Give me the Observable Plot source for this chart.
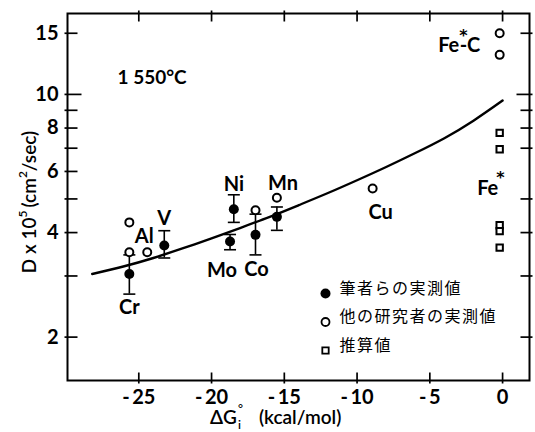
<!DOCTYPE html>
<html><head><meta charset="utf-8">
<script src="https://cdn.jsdelivr.net/npm/d3@7"></script>
<script src="https://cdn.jsdelivr.net/npm/@observablehq/plot@0.6"></script>
<style>
html,body{margin:0;padding:0;background:#fff;}
#chart svg{display:block;}
</style></head><body><div id="chart"></div>
<script>
// ---- data ----
const oursElem = ["Cr","V","Ni","Mo","Co","Mn"];
const oursDG   = [-25.65,-23.25,-18.47,-18.73,-16.98,-15.51];
const oursD    = [3.04,3.67,4.67,3.77,3.94,4.44];
const oursLo   = [2.66,3.38,4.28,3.57,3.45,4.06];
const oursHi   = [3.45,4.05,5.14,3.95,4.52,4.74];

const otherElem = ["Cr","Cr","Al","Co","Mn","Cu","Fe*-C","Fe*-C"];
const otherDG   = [-25.65,-25.65,-24.42,-16.98,-15.51,-8.93,-0.2,-0.2];
const otherD    = [3.51,4.28,3.51,4.64,5.04,5.36,15.0,13.0];

const estElem = ["Fe*","Fe*","Fe*","Fe*","Fe*"];
const estDG   = [-0.2,-0.2,-0.2,-0.2,-0.2];
const estD    = [7.75,6.95,4.2,4.04,3.62];

const curveDG = [-28.2,-26,-24,-22,-20,-18,-16,-14,-12,-10,-8,-6,-4,-2,0];
const curveD  = [3.04,3.20,3.38,3.60,3.85,4.13,4.44,4.80,5.20,5.66,6.18,6.78,7.48,8.40,9.6];

const yTickLabels = [2,4,6,8,10,15];
const yTicksLeft  = [2,3,4,5,6,7,8,9,15];
const yTicksRight = [2,3,4,5,7,8,9,15];
const yTicksMajor = [10];
const xTicks = [-25,-20,-15,-10,-5,0];

const legendLabels = ["筆者らの実測値","他の研究者の実測値","推算値"];
const tempLabel = "1 550°C";
const xLabelParts = ["ΔG","°","i","(kcal/mol)"];
const yLabelParts = ["D x 10","5","(cm","2","/sec)"];
const feCParts = ["Fe","*","-C"];
const feParts = ["Fe","*"];

// ---- tables ----
const ours = oursElem.map((el,i)=>({el, dG:oursDG[i], D:oursD[i], lo:oursLo[i], hi:oursHi[i]}));
const caps = ours.flatMap(d=>[{dG:d.dG, D:d.lo},{dG:d.dG, D:d.hi}]);
const others = otherElem.map((el,i)=>({el, dG:otherDG[i], D:otherD[i]}));
const est = estElem.map((el,i)=>({el, dG:estDG[i], D:estD[i]}));
const curve = curveDG.map((x,i)=>({dG:x, D:curveD[i]}));

// symbols: horizontal cap and inward tick marks
const len = size => Math.sqrt(size/Math.PI);
const capSymbol = {draw(c,s){ const r=len(s); c.moveTo(-r,0); c.lineTo(r,0);} };
const tickToRight = {draw(c,s){ c.moveTo(-3,0); c.lineTo(len(s),0);} };
const tickToLeft  = {draw(c,s){ c.moveTo(3,0); c.lineTo(-len(s),0);} };
const tickUp      = {draw(c,s){ c.moveTo(0,3); c.lineTo(0,-len(s));} };
const tickDown    = {draw(c,s){ c.moveTo(0,-3); c.lineTo(0,len(s));} };
const tk = {stroke:"black", strokeWidth:1.7, fill:"none"};

const FONT = "Lato, 'DejaVu Sans', sans-serif";
const labelOffsets = {
  Cr:{src:ours, dx:0, dy:34}, V:{src:ours, dx:0, dy:-27}, Ni:{src:ours, dx:0, dy:-25},
  Mo:{src:ours, dx:-8, dy:29}, Co:{src:ours, dx:1, dy:35}, Mn:{src:ours, dx:6, dy:-33},
  Al:{src:others, dx:-3, dy:-16}, Cu:{src:others, dx:8, dy:24}
};
const labelMarks = Object.entries(labelOffsets).map(([name,o]) =>
  Plot.text([o.src.find(d=>d.el===name)], {x:"dG", y:"D", text:()=>name, dx:o.dx, dy:o.dy,
    fontSize:20, fontWeight:"bold", fill:"black"}));

const feC = others.find(d=>d.el==="Fe*-C");
const fe = est[1];
const legendMarks = legendLabels.flatMap((t,i)=>{
  const dy = -87 + i*28.5;
  const sym = i===0 ? {r:5, fill:"black"} : i===1 ? {r:4, fill:"white", stroke:"black", strokeWidth:1.8} : {r:3.6, symbol:"square", fill:"white", stroke:"black", strokeWidth:1.8};
  return [
    Plot.dot([0], {frameAnchor:"bottom-left", dx:258, dy, ...sym}),
    Plot.text([t], {frameAnchor:"bottom-left", dx:272, dy, text:d=>d, textAnchor:"start",
      fontSize:16, fontFamily:"'Noto Sans CJK JP', sans-serif", fill:"black"})
  ];
});

const plot = Plot.plot({
  width:535, height:432,
  marginLeft:67, marginRight:6, marginTop:13, marginBottom:52,
  style:{fontFamily:FONT, background:"white", color:"black"},
  x:{domain:[-29.9,1.85], label:null},
  y:{type:"log", domain:[1.5,17.1], label:null},
  marks:[
    Plot.frame({strokeWidth:2}),
    Plot.axisY(yTickLabels, {anchor:"left", tickSize:0, tickPadding:9, fontSize:20, fontWeight:"bold", label:null}),
    Plot.dot(yTicksLeft, {y:d=>d, frameAnchor:"left", symbol:tickToRight, r:10, ...tk}),
    Plot.dot(yTicksMajor, {y:d=>d, frameAnchor:"left", symbol:tickToRight, r:14, ...tk}),
    Plot.dot(yTicksRight, {y:d=>d, frameAnchor:"right", symbol:tickToLeft, r:9, ...tk}),
    Plot.dot(yTicksMajor, {y:d=>d, frameAnchor:"right", symbol:tickToLeft, r:13, ...tk}),
    Plot.axisX(xTicks, {anchor:"bottom", tickSize:0, tickPadding:9, fontSize:20, fontWeight:"bold", label:null,
      tickFormat:d => d<0 ? "-\u2009" + (-d) : String(d)}),
    Plot.dot(xTicks, {x:d=>d, frameAnchor:"bottom", symbol:tickUp, r:8, ...tk}),
    Plot.dot(xTicks, {x:d=>d, frameAnchor:"top", symbol:tickDown, r:8, ...tk}),
    Plot.line(curve, {x:"dG", y:"D", curve:"natural", stroke:"black", strokeWidth:2.4}),
    Plot.ruleX(ours, {x:"dG", y1:"lo", y2:"hi", stroke:"black", strokeWidth:1.6}),
    Plot.dot(caps, {x:"dG", y:"D", symbol:capSymbol, r:6, stroke:"black", strokeWidth:1.6, fill:"none"}),
    Plot.dot(others, {x:"dG", y:"D", r:4, fill:"white", stroke:"black", strokeWidth:2}),
    Plot.dot(est, {x:"dG", y:"D", symbol:"square", r:3.6, fill:"white", stroke:"black", strokeWidth:2}),
    Plot.dot(ours, {x:"dG", y:"D", r:5, fill:"black"}),
    ...labelMarks,
    Plot.text([tempLabel], {frameAnchor:"top-left", dx:50, dy:57, text:d=>d, textAnchor:"start", fontSize:19, fontWeight:"bold"}),
    ...legendMarks
  ]
});
plot.querySelectorAll("text").forEach(t=>{ if (/[\u3040-\u9fff]/.test(t.textContent)) t.setAttribute("letter-spacing","1.5"); });
document.getElementById("chart").appendChild(plot);

const svg = d3.select(plot);
const sx = plot.scale("x"), sy = plot.scale("y");

// Fe*-C and Fe* labels (asterisk as raised tspan), placed from the point positions
const fcl = svg.append("text").attr("x", sx.apply(feC.dG) - 61).attr("y", sy.apply(feC.D) + 14)
  .attr("text-anchor","start").attr("dominant-baseline","middle")
  .attr("font-family",FONT).attr("font-size",20).attr("font-weight","bold").attr("fill","black");
fcl.append("tspan").text(feCParts[0]);
fcl.append("tspan").attr("dx",0).attr("dy",-11).attr("font-size",16).attr("font-family","'DejaVu Sans'").text(feCParts[1]);
fcl.append("tspan").attr("dx",-8).attr("dy",11).text(feCParts[2]);
const fel = svg.append("text").attr("x", sx.apply(fe.dG) - 22).attr("y", sy.apply(fe.D) + 41)
  .attr("text-anchor","start").attr("dominant-baseline","middle")
  .attr("font-family",FONT).attr("font-size",20).attr("font-weight","bold").attr("fill","black");
fel.append("tspan").text(feParts[0]);
fel.append("tspan").attr("dx",-2).attr("dy",-12).attr("font-size",16).attr("font-family","'DejaVu Sans'").text(feParts[1]);

// axis titles with super/subscripts
const yl = svg.append("text").attr("transform","translate(31,202) rotate(-90)")
  .attr("text-anchor","middle").attr("dominant-baseline","middle")
  .attr("font-family",FONT).attr("font-size",19).attr("font-weight",600).attr("fill","black");
yl.append("tspan").text(yLabelParts[0]);
yl.append("tspan").attr("dy",-7).attr("font-size",12).text(yLabelParts[1]);
yl.append("tspan").attr("dy",7).attr("dx",3).text(yLabelParts[2]);
yl.append("tspan").attr("dy",-7).attr("font-size",12).text(yLabelParts[3]);
yl.append("tspan").attr("dy",7).text(yLabelParts[4]);

const xl = svg.append("text").attr("x",210).attr("y",419)
  .attr("text-anchor","start").attr("dominant-baseline","middle")
  .attr("font-family",FONT).attr("font-size",19).attr("font-weight",600).attr("fill","black");
xl.append("tspan").text(xLabelParts[0]);
xl.append("tspan").attr("dx",1).attr("dy",-9).attr("font-size",12).text(xLabelParts[1]);
xl.append("tspan").attr("dy",16).attr("dx",-5).attr("font-size",12).text(xLabelParts[2]);
xl.append("tspan").attr("dy",-7).attr("dx",18).text(xLabelParts[3]);
</script></body></html>
